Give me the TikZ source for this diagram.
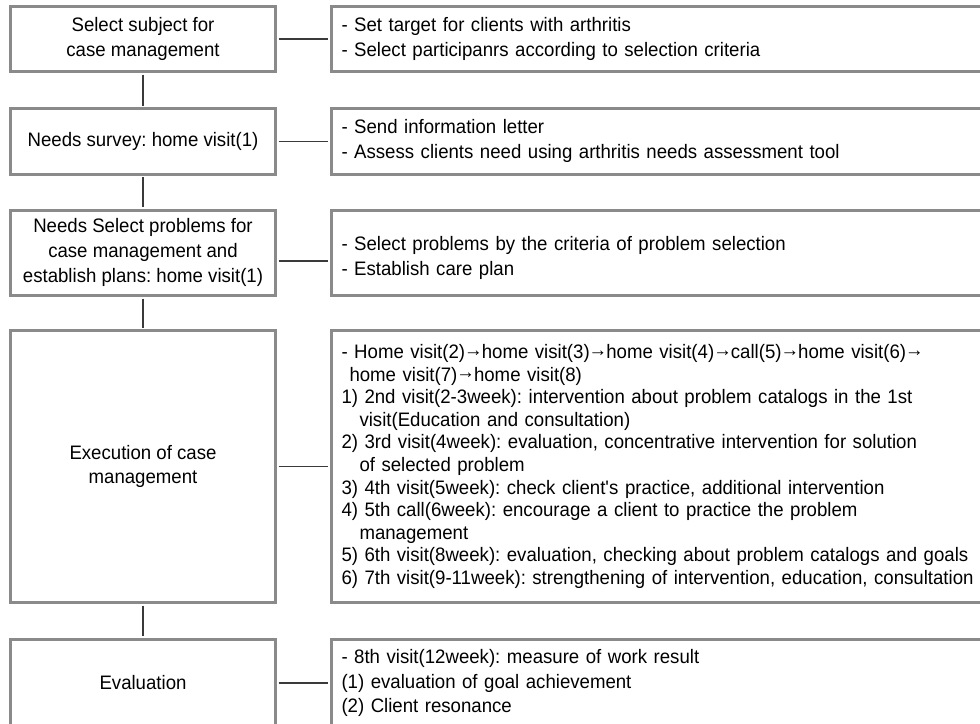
\documentclass[tikz,border=0pt]{standalone}
\usepackage{fontspec}
\setmainfont{Liberation Sans}[FakeStretch=0.955]
\newcommand\dfont{\fontsize{19.5}{24.8}\selectfont\frenchspacing}
\newcommand\arr{{\kern-1pt\raisebox{2.5pt}{→}\kern-1pt}}
\definecolor{boxgray}{HTML}{8A8A8A}
\definecolor{linkgray}{HTML}{3A3A3A}
\begin{document}
\begin{tikzpicture}[x=1pt,y=-1pt,
  lbox/.style={draw=boxgray, line width=3pt, minimum width=265pt, align=center, inner sep=0pt, font=\dfont},
  rbox/.style={draw=boxgray, line width=3pt, text width=720pt, align=left, inner xsep=10.5pt, inner ysep=0pt, anchor=west, font=\dfont},
  link/.style={draw=linkgray, line width=1.5pt, shorten <=1.5pt, shorten >=1.5pt}]
\useasboundingbox (0,0) rectangle (980,723);

\node[lbox, minimum height=65pt] (l1) at (143,39) {Select subject for\\case management};
\node[rbox, minimum height=65pt] (r1) at (329.5,39) {- Set target for clients with arthritis\\- Select participanrs according to selection criteria};

\node[lbox, minimum height=65.5pt] (l2) at (143,141.25) {Needs survey: home visit(1)};
\node[rbox, minimum height=65.5pt] (r2) at (329.5,141.25) {- Send information letter\\- Assess clients need using arthritis needs assessment tool};

\node[lbox, minimum height=85.5pt] (l3) at (143,252.75) {Needs Select problems for\\case management and\\establish plans: home visit(1)};
\node[rbox, minimum height=85.5pt] (r3) at (329.5,252.75) {\rule{0pt}{24.5pt}- Select problems by the criteria of problem selection\\- Establish care plan};

\node[lbox, minimum height=272pt] (l4) at (143,466.5) {Execution of case\\management};
\node[rbox, minimum height=272pt, font=\fontsize{19.5}{22.6}\selectfont\frenchspacing] (r4) at (329.5,466.5) {- Home visit(2)\arr home visit(3)\arr home visit(4)\arr call(5)\arr home visit(6)\arr\\
\hspace*{8pt}home visit(7)\arr home visit(8)\\
1) 2nd visit(2-3week): intervention about problem catalogs in the 1st\\
\hspace*{18pt}visit(Education and consultation)\\
2) 3rd visit(4week): evaluation, concentrative intervention for solution\\
\hspace*{18pt}of selected problem\\
3) 4th visit(5week): check client\textquotesingle s practice, additional intervention\\
4) 5th call(6week): encourage a client to practice the problem\\
\hspace*{18pt}management\\
5) 6th visit(8week): evaluation, checking about problem catalogs and goals\\
6) 7th visit(9-11week): strengthening of intervention, education, consultation};

\node[lbox, minimum height=88pt] (l5) at (143,683) {Evaluation};
\node[rbox, minimum height=88pt] (r5) at (329.5,683) {- 8th visit(12week): measure of work result\\(1) evaluation of goal achievement\\(2) Client resonance};

\draw[link] (l1) -- (r1);
\draw[link] (l2) -- (r2);
\draw[link] ([yshift=-8pt]l3.east) -- ([yshift=-8pt]r3.west);
\draw[link] (l4) -- (r4);
\draw[link] (l5) -- (r5);
\draw[link] (l1) -- (l2);
\draw[link] (l2) -- (l3);
\draw[link] (l3) -- (l4);
\draw[link] (l4) -- (l5);
\end{tikzpicture}
\end{document}
